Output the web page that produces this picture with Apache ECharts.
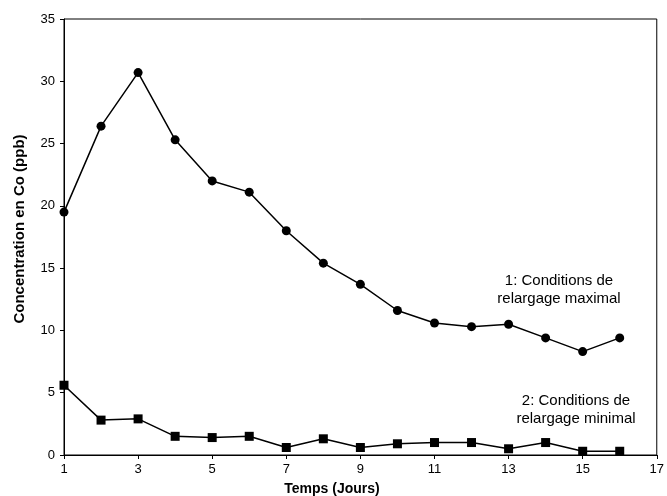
<!DOCTYPE html>
<html><head><meta charset="utf-8">
<script src="https://cdn.jsdelivr.net/npm/echarts@6/dist/echarts.min.js"></script>
<style>html,body{margin:0;padding:0;background:#fff}#c{width:667px;height:496px}</style>
</head><body><div id="c"></div>
<script>
const days = [1,2,3,4,5,6,7,8,9,10,11,12,13,14,15,16];
const maxRelease = [19.5,26.4,30.7,25.3,22.0,21.1,18.0,15.4,13.7,11.6,10.6,10.3,10.5,9.4,8.3,9.4];
const minRelease = [5.6,2.8,2.9,1.5,1.4,1.5,0.6,1.3,0.6,0.9,1.0,1.0,0.5,1.0,0.3,0.3];
const xTitle = 'Temps (Jours)';
const yTitle = 'Concentration en Co (ppb)';
const note1 = ['1: Conditions de', 'relargage maximal'];
const note2 = ['2: Conditions de', 'relargage minimal'];

const chart = echarts.init(document.getElementById('c'), null, {renderer:'canvas'});
const font = 'Liberation Sans, Arial, sans-serif';
chart.setOption({
  animation:false,
  backgroundColor:'#fff',
  grid:{left:64,right:6,top:19,bottom:41,show:true,borderColor:'#000',borderWidth:1},
  xAxis:{type:'value',min:1,max:17,interval:2,
    axisLine:{lineStyle:{color:'#000',width:1}},
    axisTick:{show:true,length:4,inside:false,lineStyle:{color:'#000'}},
    axisLabel:{fontFamily:font,fontSize:13,color:'#000',margin:8},
    splitLine:{show:false}},
  yAxis:{type:'value',min:0,max:35,interval:5,
    axisLine:{show:true,lineStyle:{color:'#000',width:1}},
    axisTick:{show:true,length:4,lineStyle:{color:'#000'}},
    axisLabel:{fontFamily:font,fontSize:13,color:'#000',margin:9},
    splitLine:{show:false}},
  series:[
    {type:'line',data:days.map((d,i)=>[d,maxRelease[i]]),symbol:'circle',symbolSize:9,
     lineStyle:{color:'#000',width:1.5},itemStyle:{color:'#000'}},
    {type:'line',data:days.map((d,i)=>[d,minRelease[i]]),symbol:'rect',symbolSize:9,
     lineStyle:{color:'#000',width:1.5},itemStyle:{color:'#000'}}
  ],
  graphic:[
    {type:'text',x:332,y:489,style:{text:xTitle,fontFamily:font,fontSize:14,fontWeight:'bold',fill:'#000',align:'center',verticalAlign:'middle'}},
    {type:'text',x:20,y:229,rotation:Math.PI/2,style:{text:yTitle,fontFamily:font,fontSize:15,fontWeight:'bold',fill:'#000',align:'center',verticalAlign:'middle'}},
    {type:'text',x:559,y:290,style:{text:note1.join('\n'),fontFamily:font,fontSize:15,fill:'#000',align:'center',verticalAlign:'middle',lineHeight:18}},
    {type:'text',x:576,y:410,style:{text:note2.join('\n'),fontFamily:font,fontSize:15,fill:'#000',align:'center',verticalAlign:'middle',lineHeight:18}}
  ]
});
</script></body></html>
